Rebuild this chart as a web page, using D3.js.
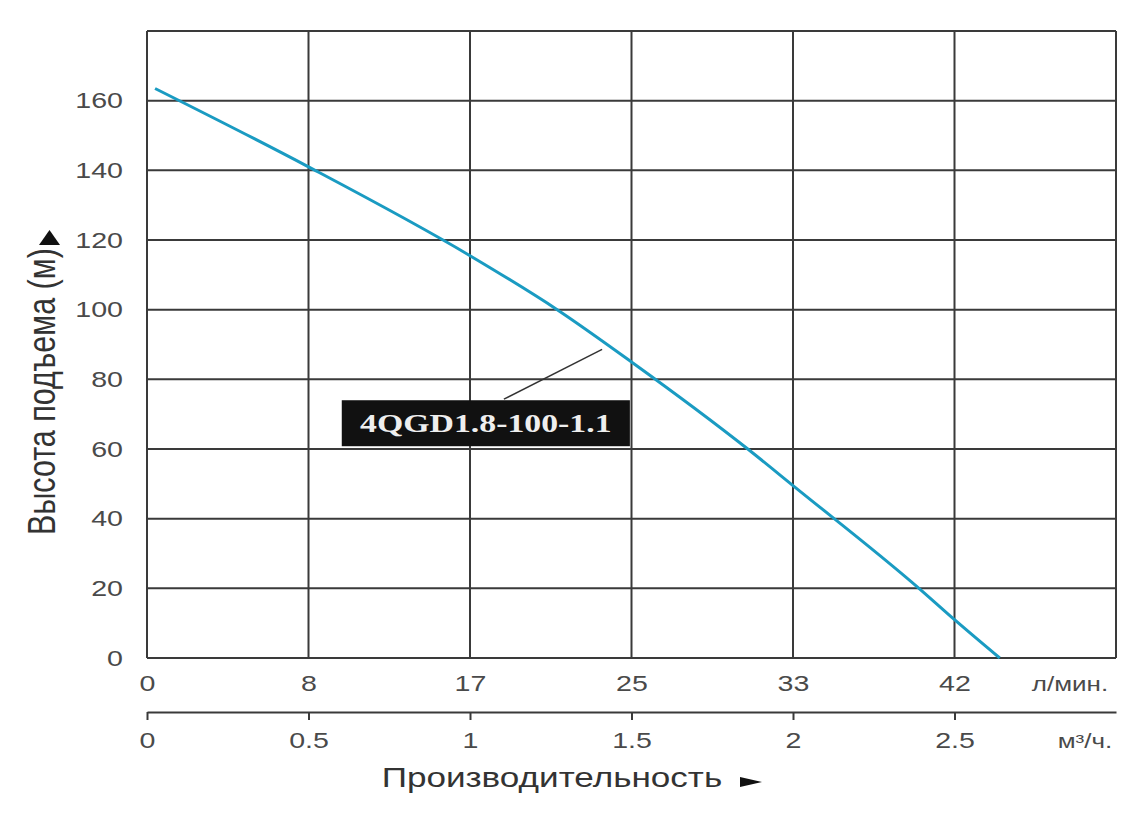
<!DOCTYPE html>
<html>
<head>
<meta charset="utf-8">
<script src="https://cdn.jsdelivr.net/npm/d3@7"></script>
<style>
  body { margin: 0; background: #fff; }
  svg { display: block; font-family: "Liberation Sans", Arial, sans-serif; }
</style>
</head>
<body>
<svg id="chart"></svg>
<script>
// flow in m3/h and head in m
const flow = [0.025, 0.5, 1.0, 1.27, 1.5, 1.86, 2.0, 2.39, 2.5, 2.64];
const head = [163.5, 141, 115.5, 100, 85, 60, 49.5, 20, 11, 0];

const flowTicks = [0, 0.5, 1, 1.5, 2, 2.5, 3];
const lpmLabels = ["0", "8", "17", "25", "33", "42"];
const m3hLabels = ["0", "0.5", "1", "1.5", "2", "2.5"];
const headTicks = [0, 20, 40, 60, 80, 100, 120, 140, 160, 180];
const modelName = "4QGD1.8-100-1.1";

const width = 1143, height = 815;
const margin = { top: 31, right: 27, bottom: 157, left: 147 };
const sx = 1.3; // the picture is stretched sideways
const textColor = "#4a4a4a", gridColor = "#3a3a3a";

const svg = d3.select("#chart").attr("width", width).attr("height", height);

const x = d3.scaleLinear().domain([0, 3]).range([margin.left, width - margin.right]);
const y = d3.scaleLinear().domain([0, 180]).range([height - margin.bottom, margin.top]);

// grid
svg.append("g").selectAll("line").data(flowTicks).join("line")
  .attr("x1", d => x(d)).attr("x2", d => x(d))
  .attr("y1", y(0)).attr("y2", y(180))
  .attr("stroke", gridColor).attr("stroke-width", 2);
svg.append("g").selectAll("line").data(headTicks).join("line")
  .attr("x1", x(0)).attr("x2", x(3))
  .attr("y1", d => y(d)).attr("y2", d => y(d))
  .attr("stroke", gridColor).attr("stroke-width", 2);

// y labels
const yAxis = svg.append("g")
  .attr("transform", `translate(${x(0)},0)`)
  .call(d3.axisLeft(y).tickValues(headTicks.slice(0, -1)).tickSize(0).tickPadding(18.5));
yAxis.select(".domain").remove();
yAxis.selectAll("text")
  .attr("transform", `scale(${sx},1)`)
  .style("font-size", "22px").attr("fill", textColor);

// l/min labels
const xAxis1 = svg.append("g")
  .attr("transform", `translate(0,${y(0)})`)
  .call(d3.axisBottom(x).tickValues(flowTicks.slice(0, -1)).tickFormat((d, i) => lpmLabels[i])
    .tickSize(0).tickPadding(17.4));
xAxis1.select(".domain").remove();
xAxis1.selectAll("text")
  .attr("transform", `scale(${sx},1)`)
  .style("font-size", "22px").attr("fill", textColor);

// m3/h axis
const xAxis2 = svg.append("g")
  .attr("transform", "translate(0,712)")
  .call(d3.axisBottom(x).tickValues(flowTicks.slice(0, -1)).tickFormat((d, i) => m3hLabels[i])
    .tickSize(8).tickSizeOuter(0).tickPadding(12.4));
xAxis2.select(".domain").attr("stroke", gridColor).attr("stroke-width", 2);
xAxis2.selectAll(".tick line").attr("stroke", gridColor).attr("stroke-width", 2);
xAxis2.selectAll("text")
  .attr("transform", `scale(${sx},1)`)
  .style("font-size", "22px").attr("fill", textColor);

// units
svg.append("text").attr("transform", `translate(1070,691) scale(${sx},1)`)
  .attr("text-anchor", "middle").style("font-size", "20px").attr("fill", textColor)
  .text("л/мин.");
svg.append("text").attr("transform", `translate(1085,748) scale(${sx},1)`)
  .attr("text-anchor", "middle").style("font-size", "20px").attr("fill", textColor)
  .text("м³/ч.");

// axis titles
svg.append("text").attr("transform", `translate(381.7,786.7) scale(${sx},1)`)
  .style("font-size", "27px").attr("fill", "#333")
  .text("Производительность");
svg.append("path").attr("d", "M740,777L762,782L740,787Z").attr("fill", "#111");

svg.append("text").attr("transform", `translate(55,391.5) scale(${sx},1) rotate(-90)`)
  .attr("text-anchor", "middle").style("font-size", "30.5px").attr("fill", "#333")
  .text("Высота подъема (м)");
svg.append("path").attr("d", "M39,245L49.5,230L60,245Z").attr("fill", "#111");

// curve
const points = flow.map((q, i) => [q, head[i]]);
svg.append("path")
  .datum(points)
  .attr("fill", "none")
  .attr("stroke", "#1a9bc2")
  .attr("stroke-width", 3)
  .attr("d", d3.line().x(d => x(d[0])).y(d => y(d[1])).curve(d3.curveMonotoneX));

// model label
svg.append("line")
  .attr("x1", x(1.105)).attr("y1", y(74.3))
  .attr("x2", x(1.409)).attr("y2", y(88.6))
  .attr("stroke", "#333").attr("stroke-width", 1.5);
svg.append("rect")
  .attr("x", x(0.603)).attr("y", y(74))
  .attr("width", x(1.495) - x(0.603)).attr("height", y(60.8) - y(74))
  .attr("fill", "#111");
svg.append("text")
  .attr("transform", `translate(${(x(0.603) + x(1.495)) / 2},431.5) scale(${sx},1)`)
  .attr("text-anchor", "middle")
  .style("font-family", "'Liberation Serif', 'Times New Roman', serif")
  .style("font-weight", "bold").style("font-size", "26px")
  .attr("fill", "#eee")
  .text(modelName);
</script>
</body>
</html>
